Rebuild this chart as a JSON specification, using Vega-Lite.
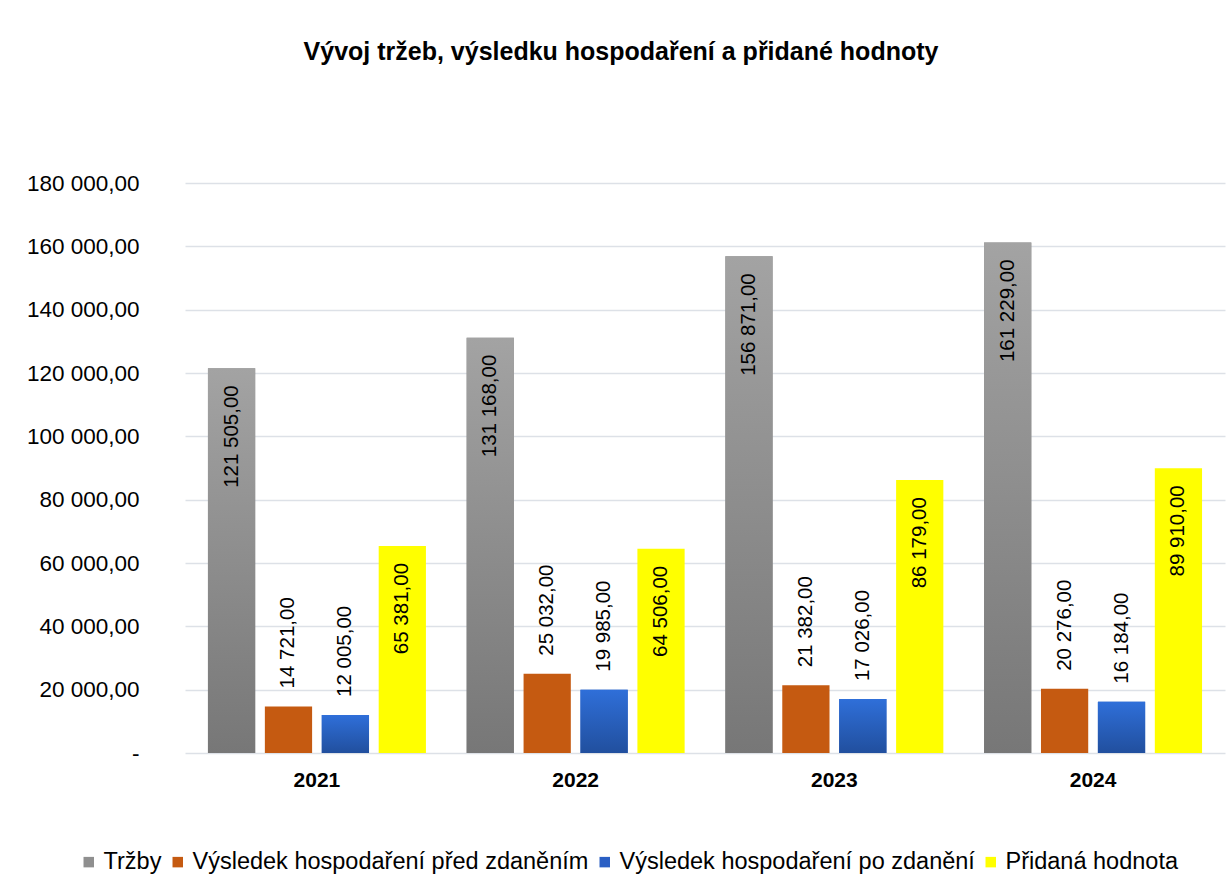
{
  "$schema": "https://vega.github.io/schema/vega-lite/v6.json",
  "width": 1040,
  "height": 570,
  "autosize": {"type": "none"},
  "padding": {"left": 185, "top": 183, "right": 6, "bottom": 140},
  "background": "white",
  "title": {
    "text": "Vývoj tržeb, výsledku hospodaření a přidané hodnoty",
    "font": "Liberation Sans",
    "fontSize": 25,
    "fontWeight": "bold",
    "color": "#000000",
    "anchor": "middle",
    "dx": -84,
    "offset": 107
  },
  "config": {
    "locale": {
      "number": {"decimal": ",", "thousands": " ", "grouping": [3], "currency": ["", " Kč"]}
    },
    "view": {"stroke": null},
    "font": "Liberation Sans"
  },
  "data": {
    "values": [
      {"year": "2021", "series": "Tržby", "value": 121505},
      {"year": "2021", "series": "Výsledek hospodaření před zdaněním", "value": 14721},
      {"year": "2021", "series": "Výsledek hospodaření po zdanění", "value": 12005},
      {"year": "2021", "series": "Přidaná hodnota", "value": 65381},
      {"year": "2022", "series": "Tržby", "value": 131168},
      {"year": "2022", "series": "Výsledek hospodaření před zdaněním", "value": 25032},
      {"year": "2022", "series": "Výsledek hospodaření po zdanění", "value": 19985},
      {"year": "2022", "series": "Přidaná hodnota", "value": 64506},
      {"year": "2023", "series": "Tržby", "value": 156871},
      {"year": "2023", "series": "Výsledek hospodaření před zdaněním", "value": 21382},
      {"year": "2023", "series": "Výsledek hospodaření po zdanění", "value": 17026},
      {"year": "2023", "series": "Přidaná hodnota", "value": 86179},
      {"year": "2024", "series": "Tržby", "value": 161229},
      {"year": "2024", "series": "Výsledek hospodaření před zdaněním", "value": 20276},
      {"year": "2024", "series": "Výsledek hospodaření po zdanění", "value": 16184},
      {"year": "2024", "series": "Přidaná hodnota", "value": 89910}
    ]
  },
  "encoding": {
    "x": {
      "field": "year",
      "type": "nominal",
      "scale": {"paddingInner": 0.12, "paddingOuter": 0.07},
      "axis": {
        "title": null,
        "labelAngle": 0,
        "labelFont": "Liberation Sans",
        "labelFontSize": 21,
        "labelFontWeight": "bold",
        "labelColor": "#000000",
        "labelPadding": 16,
        "domain": false,
        "ticks": false
      }
    },
    "xOffset": {
      "field": "series",
      "type": "nominal",
      "sort": ["Tržby", "Výsledek hospodaření před zdaněním", "Výsledek hospodaření po zdanění", "Přidaná hodnota"],
      "scale": {
        "domain": ["Tržby", "Výsledek hospodaření před zdaněním", "Výsledek hospodaření po zdanění", "Přidaná hodnota"],
        "paddingInner": 0.17,
        "paddingOuter": 0.085
      }
    },
    "y": {
      "field": "value",
      "type": "quantitative",
      "scale": {"domain": [0, 180000], "nice": false},
      "axis": {
        "title": null,
        "values": [0, 20000, 40000, 60000, 80000, 100000, 120000, 140000, 160000, 180000],
        "labelExpr": "datum.value == 0 ? '-' : format(datum.value, ',.2f')",
        "labelFont": "Liberation Sans",
        "labelFontSize": 22.5,
        "labelColor": "#000000",
        "labelPadding": 46,
        "domain": false,
        "ticks": false,
        "grid": true,
        "gridColor": "#dde1e7",
        "gridWidth": 1.5
      }
    }
  },
  "layer": [
    {
      "mark": {"type": "bar"},
      "encoding": {
        "color": {
          "field": "series",
          "type": "nominal",
          "scale": {
            "domain": ["Tržby", "Výsledek hospodaření před zdaněním", "Výsledek hospodaření po zdanění", "Přidaná hodnota"],
            "range": ["#8f8f8f", "#c55a11", "#2a5fc4", "#ffff00"]
          },
          "legend": {
            "title": null,
            "orient": "none",
            "direction": "horizontal",
            "legendX": -108,
            "legendY": 667,
            "symbolType": "square",
            "symbolSize": 110,
            "symbolStrokeWidth": 0,
            "labelFont": "Liberation Sans",
            "labelFontSize": 23.5,
            "labelColor": "#000000",
            "labelLimit": 600,
            "columnPadding": 4,
            "symbolOffset": 0,
            "labelOffset": 3
          }
        }
      }
    },
    {
      "transform": [{"filter": "datum.series == 'Tržby'"}],
      "mark": {
        "type": "bar",
        "color": {
          "gradient": "linear", "x1": 0, "y1": 0, "x2": 0, "y2": 1,
          "stops": [{"offset": 0, "color": "#a3a3a3"}, {"offset": 1, "color": "#777777"}]
        }
      }
    },
    {
      "transform": [{"filter": "datum.series == 'Výsledek hospodaření po zdanění'"}],
      "mark": {
        "type": "bar",
        "color": {
          "gradient": "linear", "x1": 0, "y1": 0, "x2": 0, "y2": 1,
          "stops": [{"offset": 0, "color": "#2f6fd9"}, {"offset": 1, "color": "#214f9e"}]
        }
      }
    },
    {
      "transform": [{"filter": "datum.series == 'Tržby' || datum.series == 'Přidaná hodnota'"}],
      "mark": {
        "type": "text",
        "angle": 270,
        "align": "right",
        "baseline": "middle",
        "dx": -17,
        "font": "Liberation Sans",
        "fontSize": 20.5,
        "color": "#000000"
      },
      "encoding": {
        "text": {"field": "value", "type": "quantitative", "format": ",.2f"}
      }
    },
    {
      "transform": [{"filter": "datum.series != 'Tržby' && datum.series != 'Přidaná hodnota'"}],
      "mark": {
        "type": "text",
        "angle": 270,
        "align": "left",
        "baseline": "middle",
        "dx": 18,
        "font": "Liberation Sans",
        "fontSize": 20.5,
        "color": "#000000"
      },
      "encoding": {
        "text": {"field": "value", "type": "quantitative", "format": ",.2f"}
      }
    }
  ]
}
